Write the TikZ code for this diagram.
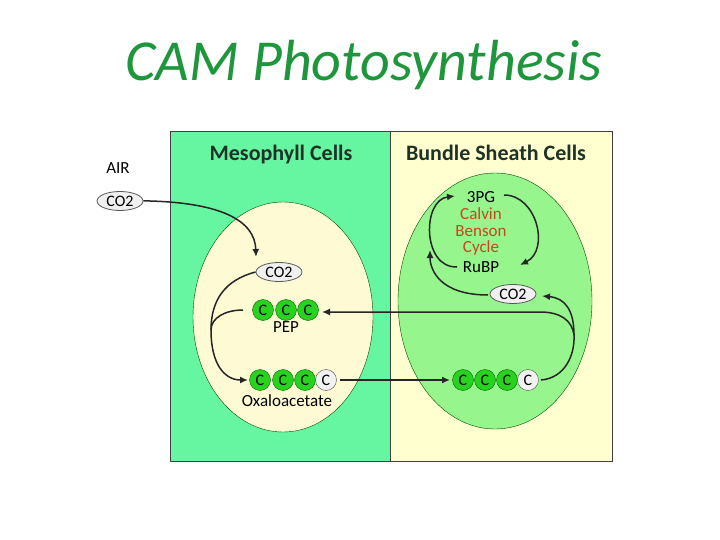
\documentclass[tikz,border=0pt]{standalone}
\usepackage{fontspec}
\setmainfont{Carlito}
\usetikzlibrary{arrows.meta,shapes.geometric}
\definecolor{meso}{RGB}{102,245,160}
\definecolor{bsc}{RGB}{255,255,208}
\definecolor{cream}{RGB}{253,250,212}
\definecolor{lgreen}{RGB}{150,245,140}
\definecolor{cgreen}{RGB}{40,210,30}
\definecolor{ttl}{RGB}{30,150,60}
\definecolor{hdr}{RGB}{30,50,40}
\definecolor{calv}{RGB}{200,70,30}
\tikzset{
  co/.style={draw=gray!70!black,line width=0.8pt,fill=gray!12,ellipse,inner sep=0pt,minimum width=46pt,minimum height=19pt,font=\fontsize{16}{16}\selectfont},
  cc/.style={circle,draw=green!40!black,fill=cgreen,minimum size=21pt,inner sep=0pt,font=\fontsize{16}{16}\selectfont},
  cg/.style={circle,draw=gray!60!black,fill=gray!10,minimum size=21pt,inner sep=0pt,font=\fontsize{16}{16}\selectfont},
  lbl/.style={font=\fontsize{17}{17}\selectfont,inner sep=1pt},
  hd/.style={font=\fontsize{22}{22}\selectfont\bfseries,text=hdr},
  ar/.style={-{Latex[length=8pt,width=7pt]},line width=1.5pt,black!85},
  ln/.style={line width=1.5pt,black!85}
}
\begin{document}
\begin{tikzpicture}[x=1pt,y=-1pt]
\useasboundingbox (0,0) rectangle (720,540);
\fill[white] (0,0) rectangle (720,540);
\node[text=ttl,font=\fontsize{58}{58}\selectfont\itshape] (title) at (364,65) {CAM Photosynthesis};
\fill[meso] (170,132) rectangle (390,461);
\fill[bsc] (390,132) rectangle (612,461);
\draw[gray!50!black,line width=1pt] (170,132) rectangle (612,461);
\draw[gray!50!black,line width=0.8pt] (390,132) -- (390,461);
\node[hd] (mh) at (281,155) {Mesophyll Cells};
\node[hd] (bh) at (496,153) {Bundle Sheath Cells};
\draw[green!30!black,fill=cream] (283,317) ellipse (90 and 115);
\draw[green!30!black,fill=lgreen] (495,301) ellipse (97 and 128);
\node[lbl] (air) at (118,168) {AIR};
\node[co] (co2a) at (120,201) {CO2};
\node[co] (co2m) at (279,272) {CO2};
\node[cc] (p1) at (263,310) {C};
\node[cc] (p2) at (286,310) {C};
\node[cc] (p3) at (308,310) {C};
\node[lbl] (pep) at (286,327) {PEP};
\node[cc] (o1) at (260,380) {C};
\node[cc] (o2) at (283,380) {C};
\node[cc] (o3) at (305,380) {C};
\node[cg] (o4) at (326,380) {C};
\node[lbl] (oxa) at (287,401) {Oxaloacetate};
\node[cc] (b1) at (463,380) {C};
\node[cc] (b2) at (485,380) {C};
\node[cc] (b3) at (507,380) {C};
\node[cg] (b4) at (528,380) {C};
\node[co] (co2b) at (513,294) {CO2};
\node[lbl] (pg) at (481,197) {3PG};
\node[lbl,text=calv] (cal) at (481,214) {Calvin};
\node[lbl,text=calv] (ben) at (481,231) {Benson};
\node[lbl,text=calv] (cyc) at (481,248) {Cycle};
\node[lbl] (rub) at (481,267) {RuBP};
\coordinate (j) at (574,335);
\coordinate (m) at (211,330);
\draw[ar] (co2a.east) -- (150,201) .. controls (220,203) and (255,220) .. (256,257);
\draw[ln] (co2m.west) .. controls (225,280) and (211,300) .. (m);
\draw[ln] (243,310) .. controls (225,310) and (211,318) .. (m);
\draw[ar] (m) .. controls (211,365) and (225,380) .. (248,380);
\draw[ar] (340,380) -- (450,380);
\draw[ln] (541,380) .. controls (565,378) and (575,355) .. (j);
\draw[ar] (j) .. controls (574,310) and (565,298) .. (542,296);
\draw[ar] (j) .. controls (572,320) and (560,312) .. (540,312) -- (322,312);
\draw[ar] (504,195) .. controls (537,195) and (550,250) .. (520,265);
\draw[ar] (457,267) .. controls (422,268) and (422,200) .. (455,196);
\draw[ar] (488,295) .. controls (440,295) and (430,270) .. (430,250);
\end{tikzpicture}
\end{document}
